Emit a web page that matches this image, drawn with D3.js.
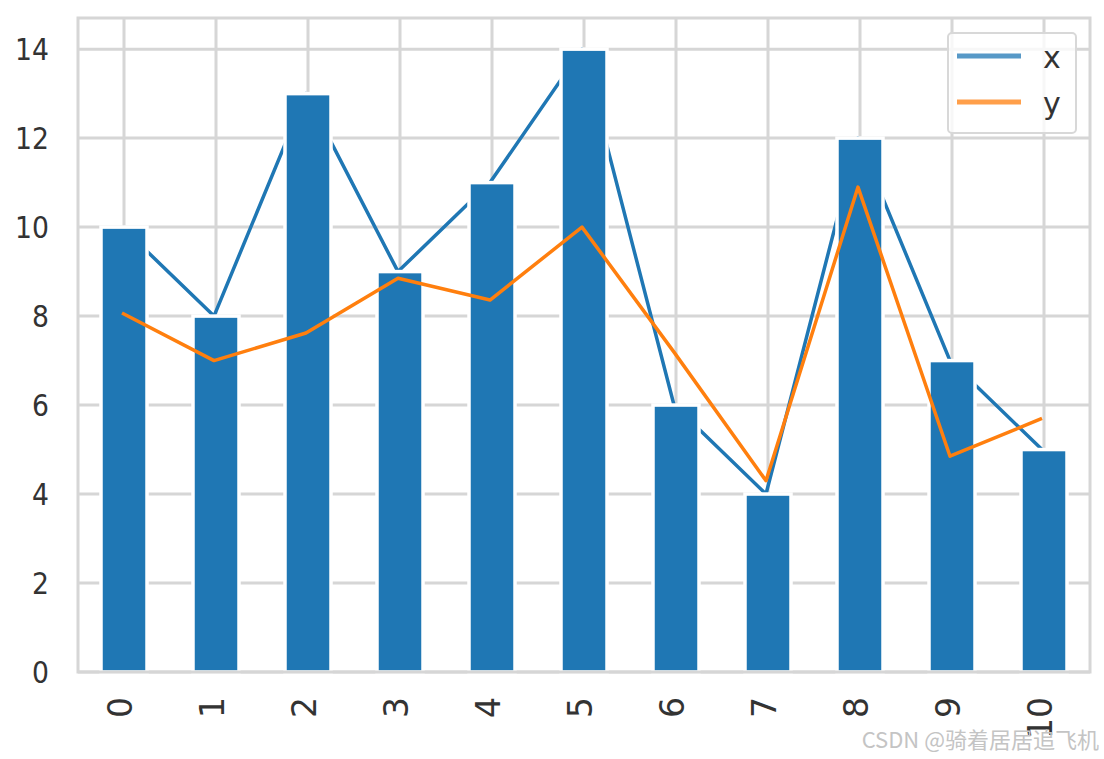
<!DOCTYPE html>
<html>
<head>
<meta charset="utf-8">
<script src="https://cdn.jsdelivr.net/npm/d3@7"></script>
<style>
  html, body { margin: 0; padding: 0; background: #ffffff; }
  svg { display: block; }
</style>
</head>
<body>
<svg id="chart" width="1104" height="759"></svg>
<script>
const categories = ["0", "1", "2", "3", "4", "5", "6", "7", "8", "9", "10"];
const xValues = [10, 8, 13, 9, 11, 14, 6, 4, 12, 7, 5];
const yValues = [8.07, 7.0, 7.62, 8.85, 8.36, 10.0, 7.19, 4.3, 10.9, 4.85, 5.7];
const yTicks = [0, 2, 4, 6, 8, 10, 12, 14];
const seriesNames = ["x", "y"];
const seriesColors = ["#1f77b4", "#ff7f0e"];
const watermark = "CSDN @骑着居居追飞机";

(function () {
const svg = d3.select("#chart");
const pLeft = 78, pRight = 1090, pTop = 18, pBottom = 672;
const gridColor = "#d6d6d6";
const textColor = "#333333";

const x = d3.scaleBand().domain(categories).range([pLeft, pRight]).paddingInner(0).paddingOuter(0);
const y = d3.scaleLinear().domain([0, 14.7]).range([pBottom, pTop]);
const cx = c => x(c) + x.bandwidth() / 2;

// grid
const grid = svg.append("g");
grid.selectAll("line.h").data(yTicks).enter().append("line")
  .attr("x1", pLeft).attr("x2", pRight)
  .attr("y1", d => y(d)).attr("y2", d => y(d))
  .attr("stroke", gridColor).attr("stroke-width", 3);
grid.selectAll("line.v").data(categories).enter().append("line")
  .attr("x1", d => cx(d)).attr("x2", d => cx(d))
  .attr("y1", pTop).attr("y2", pBottom)
  .attr("stroke", gridColor).attr("stroke-width", 3);

// x series line (under bars)
const lineX = d3.line().x((d, i) => cx(categories[i]) - 2).y(d => y(d));
svg.append("path").datum(xValues)
  .attr("d", lineX).attr("fill", "none")
  .attr("stroke", seriesColors[0]).attr("stroke-width", 3.5)
  .attr("stroke-linejoin", "round");

// bars
const barW = x.bandwidth() * 0.5;
svg.append("g").selectAll("rect").data(xValues).enter().append("rect")
  .attr("x", (d, i) => cx(categories[i]) - barW / 2)
  .attr("width", barW)
  .attr("y", d => y(d))
  .attr("height", d => y(0) - y(d))
  .attr("fill", seriesColors[0])
  .attr("stroke", "#ffffff").attr("stroke-width", 3.5);

// y series line (over bars)
svg.append("path").datum(yValues)
  .attr("d", lineX).attr("fill", "none")
  .attr("stroke", seriesColors[1]).attr("stroke-width", 3.5)
  .attr("stroke-linejoin", "round");

// spines
svg.append("rect")
  .attr("x", pLeft).attr("y", pTop).attr("width", pRight - pLeft).attr("height", pBottom - pTop)
  .attr("fill", "none").attr("stroke", gridColor).attr("stroke-width", 3);

// y tick labels
svg.append("g").selectAll("text").data(yTicks).enter().append("text")
  .attr("transform", d => `translate(49,${y(d)}) scale(0.92,1.05)`)
  .attr("dy", "0.36em")
  .attr("text-anchor", "end")
  .attr("font-family", "DejaVu Sans").attr("font-size", 29)
  .attr("fill", textColor)
  .text(d => d);

// x tick labels (rotated)
svg.append("g").selectAll("text").data(categories).enter().append("text")
  .attr("transform", d => `translate(${cx(d) - 4},${697}) rotate(-90)`)
  .attr("dy", "0.36em")
  .attr("text-anchor", "end")
  .attr("font-family", "DejaVu Sans").attr("font-size", 33)
  .attr("fill", textColor)
  .text(d => d);

// legend
const lg = svg.append("g");
lg.append("rect")
  .attr("x", 948).attr("y", 33).attr("width", 128).attr("height", 100)
  .attr("rx", 4).attr("fill", "#ffffff").attr("fill-opacity", 0.8)
  .attr("stroke", "#d8d8d8").attr("stroke-width", 2);
seriesNames.forEach((name, i) => {
  const ly = 56 + i * 46;
  lg.append("line")
    .attr("x1", 957).attr("x2", 1021).attr("y1", ly).attr("y2", ly)
    .attr("stroke", seriesColors[i]).attr("stroke-width", 5)
    .attr("stroke-opacity", 0.75);
  lg.append("text")
    .attr("x", 1043).attr("y", ly + 12)
    .attr("font-family", "DejaVu Sans").attr("font-size", 30)
    .attr("fill", textColor)
    .text(name);
});

// watermark
svg.append("text")
  .attr("x", 1099).attr("y", 748)
  .attr("text-anchor", "end")
  .attr("font-family", "Noto Sans CJK SC").attr("font-size", 22)
  .attr("fill", "#c4c4c4")
  .text(watermark);
})();
</script>
</body>
</html>
